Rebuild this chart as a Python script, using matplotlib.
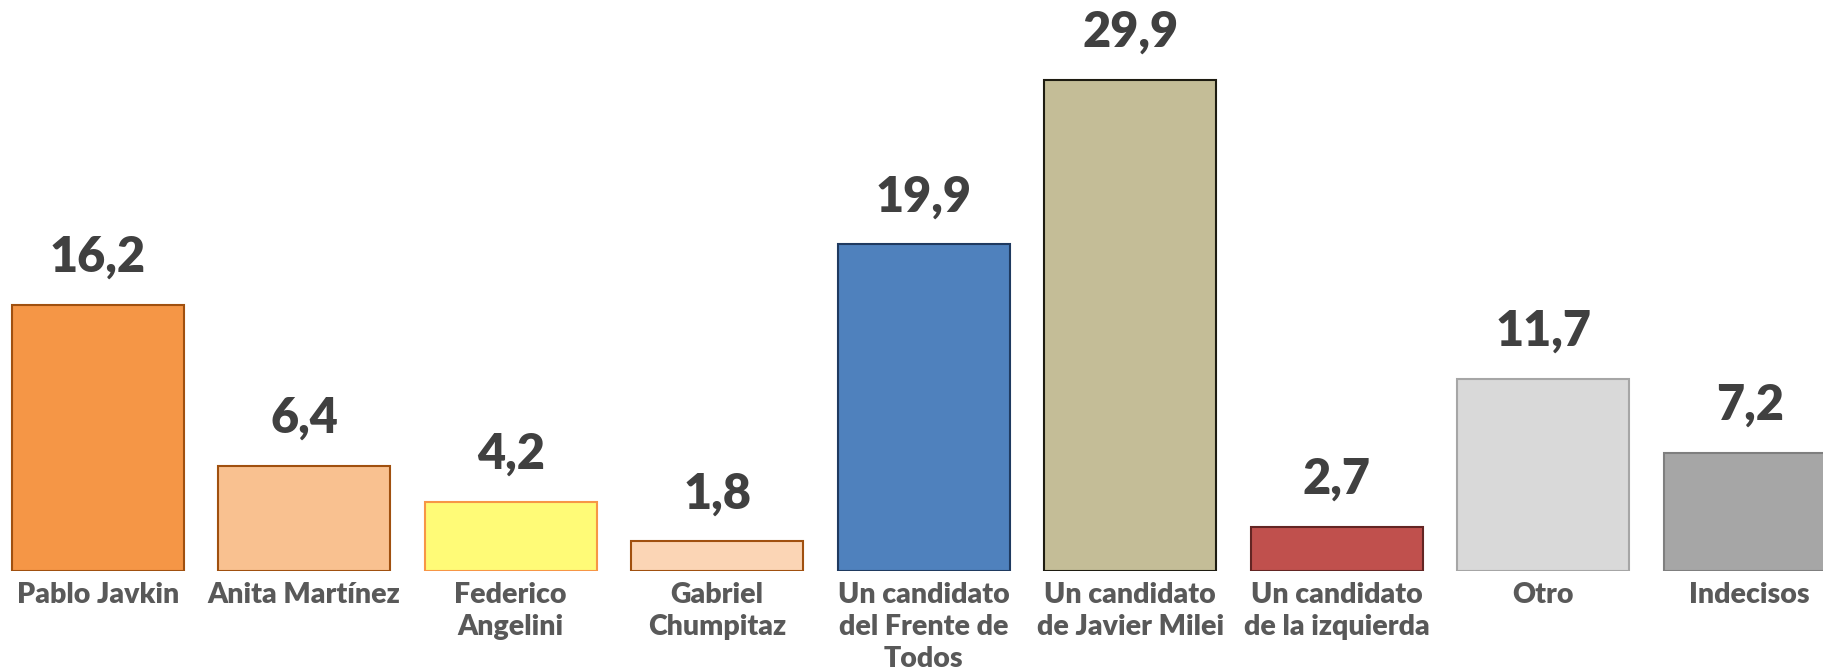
import matplotlib.pyplot as plt

# datos de la encuesta
categorias = ['Pablo Javkin', 'Anita Martínez', 'Federico\nAngelini', 'Gabriel\nChumpitaz',
              'Un candidato\ndel Frente de\nTodos', 'Un candidato\nde Javier Milei',
              'Un candidato\nde la izquierda', 'Otro', 'Indecisos']
valores = [16.2, 6.4, 4.2, 1.8, 19.9, 29.9, 2.7, 11.7, 7.2]
etiquetas = ['16,2', '6,4', '4,2', '1,8', '19,9', '29,9', '2,7', '11,7', '7,2']

colores = ['#F59646', '#F9C190', '#FFFB77', '#FBD5B5', '#4F81BD',
           '#C4BD97', '#C0504D', '#D9D9D9', '#A6A6A6']
bordes = ['#A0500F', '#A0500F', '#F79646', '#A0500F', '#1F3A60',
          '#1E1C11', '#632523', '#A6A6A6', '#7F7F7F']

plt.rcParams['font.family'] = ['Lato', 'DejaVu Sans']

fig = plt.figure(figsize=(18.23, 6.70), dpi=100)
ax = fig.add_axes([0, 0.1478, 1, 0.8522])

x = range(len(valores))
bars = ax.bar(x, valores, width=0.833, color=colores, edgecolor=bordes, linewidth=1.5)

for b, t in zip(bars, etiquetas):
    ax.annotate(t, (b.get_x() + b.get_width() / 2, b.get_height()),
                xytext=(0, 18), textcoords='offset points',
                ha='center', va='bottom', fontsize=35, fontweight='heavy', color='#404040')

ax.set_xlim(-0.473, 8.355)
ax.set_ylim(0, 34.77)
ax.set_xticks(list(x))
ax.set_xticklabels(categorias, fontsize=20.5, fontweight='heavy', color='#595959', linespacing=1.28)
ax.tick_params(axis='x', length=0, pad=8)
ax.set_yticks([])
for s in ax.spines.values():
    s.set_visible(False)

plt.savefig('out.png', dpi=100)
plt.close()
